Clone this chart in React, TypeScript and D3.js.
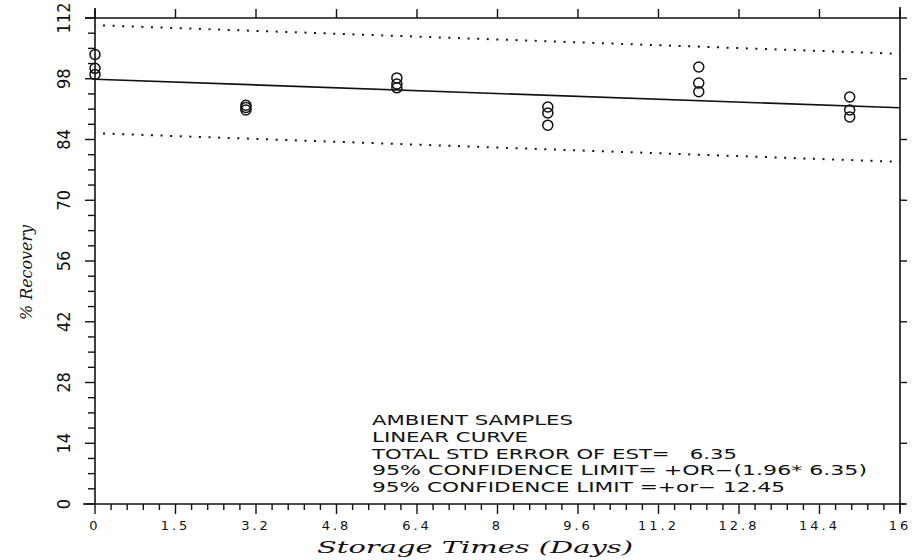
import { useEffect, useRef } from 'react';
import * as d3 from 'd3';

// storage day and % recovery of each ambient sample (three replicates per day)
const sampleDays = [0, 0, 0, 3, 3, 3, 6, 6, 6, 9, 9, 9, 12, 12, 12, 15, 15, 15];
const recovery = [103.6, 100.4, 99.0, 91.9, 91.4, 90.8, 98.2, 96.8, 95.9, 91.5, 90.1, 87.3, 100.7, 97.0, 95.0, 93.8, 90.8, 89.2];

// fitted linear curve at its two ends, and the 95% limit band
const fitDays = [0, 16];
const fitValues = [97.9, 91.3];
const confLimit = 12.45;

const xTickValues = [0, 1.6, 3.2, 4.8, 6.4, 8, 9.6, 11.2, 12.8, 14.4, 16];
const xTickLabels = ['0', '1.5', '3.2', '4.8', '6.4', '8', '9.6', '11.2', '12.8', '14.4', '16'];
const yTickValues = [0, 14, 28, 42, 56, 70, 84, 98, 112];

const notes = [
  'AMBIENT SAMPLES',
  'LINEAR CURVE',
  'TOTAL STD ERROR OF EST=   6.35',
  '95% CONFIDENCE LIMIT= +OR\u2212(1.96* 6.35)',
  '95% CONFIDENCE LIMIT =+or\u2212 12.45',
];
const noteWidths = [201, 156, 365, 495, 413];

export default function App() {
  const ref = useRef<SVGSVGElement>(null);

  useEffect(() => {
    const svg = d3.select(ref.current);
    svg.selectAll('*').remove();

    const x = d3.scaleLinear().domain([0, 16]).range([95, 900]);
    const y = d3.scaleLinear().domain([0, 112]).range([504, 18]);
    const ink = '#111';

    // frame
    const frame = svg.append('g').attr('stroke', ink).attr('stroke-width', 1.6).attr('fill', 'none');
    frame.append('line').attr('x1', 83).attr('x2', 905).attr('y1', y(0)).attr('y2', y(0));
    frame.append('line').attr('x1', 85).attr('x2', 900).attr('y1', y(112)).attr('y2', y(112));
    frame.append('line').attr('x1', x(0)).attr('x2', x(0)).attr('y1', 8).attr('y2', y(0));
    frame.append('line').attr('x1', x(16)).attr('x2', x(16)).attr('y1', 7).attr('y2', 512);

    // bottom ticks
    const xMinor = d3.range(0, 50).map(i => i * 0.32).filter(v => !xTickValues.some(t => Math.abs(t - v) < 1e-6));
    const ticks = svg.append('g').attr('stroke', ink).attr('stroke-width', 1.4);
    ticks.selectAll('.xmaj').data(xTickValues).join('line')
      .attr('x1', d => x(d)).attr('x2', d => x(d)).attr('y1', y(0)).attr('y2', y(0) + 10);
    ticks.selectAll('.xmin').data(xMinor).join('line')
      .attr('x1', d => x(d)).attr('x2', d => x(d)).attr('y1', y(0)).attr('y2', y(0) + 6);
    // top ticks, pointing up
    ticks.selectAll('.xtop').data(xTickValues).join('line')
      .attr('x1', d => x(d)).attr('x2', d => x(d)).attr('y1', y(112)).attr('y2', y(112) - 9);

    // left ticks
    const yMinor = d3.range(0, 33).map(i => i * 3.5).filter(v => v % 14 !== 0);
    ticks.selectAll('.ymaj').data(yTickValues).join('line')
      .attr('x1', x(0) - 10).attr('x2', x(0)).attr('y1', d => y(d)).attr('y2', d => y(d));
    ticks.selectAll('.ymin').data(yMinor).join('line')
      .attr('x1', x(0) - 7).attr('x2', x(0)).attr('y1', d => y(d)).attr('y2', d => y(d));
    // right ticks, pointing out
    ticks.selectAll('.yright').data(yTickValues).join('line')
      .attr('x1', x(16)).attr('x2', x(16) + 7).attr('y1', d => y(d)).attr('y2', d => y(d));

    // tick labels
    svg.append('g').selectAll('text').data(xTickValues).join('text')
      .attr('x', d => x(d)).attr('y', 530)
      .attr('text-anchor', 'middle')
      .attr('font-family', 'DejaVu Sans').attr('font-size', 13).attr('letter-spacing', 3)
      .attr('fill', ink)
      .text((_, i) => xTickLabels[i]);

    svg.append('g').selectAll('text').data(yTickValues).join('text')
      .attr('transform', d => `translate(70,${y(d)}) rotate(-90)`)
      .attr('text-anchor', 'middle')
      .attr('font-family', 'DejaVu Sans Condensed, DejaVu Sans').attr('font-stretch', 'condensed')
      .attr('font-size', 18).attr('font-weight', 300)
      .attr('fill', ink)
      .text(d => d);

    // axis titles
    svg.append('text')
      .attr('transform', `translate(32,${(225 + 320) / 2}) rotate(-90)`)
      .attr('text-anchor', 'middle')
      .attr('font-family', 'DejaVu Serif Condensed, DejaVu Serif').attr('font-style', 'italic')
      .attr('font-size', 17).attr('fill', ink)
      .attr('textLength', 95).attr('lengthAdjust', 'spacingAndGlyphs')
      .text('% Recovery');

    svg.append('text')
      .attr('x', 317).attr('y', 553)
      .attr('font-family', 'DejaVu Serif').attr('font-style', 'italic')
      .attr('font-size', 17).attr('fill', ink)
      .attr('textLength', 316).attr('lengthAdjust', 'spacingAndGlyphs')
      .text('Storage Times (Days)');

    // fitted line and confidence band
    const line = d3.line<number>().x((_, i) => x(fitDays[i])).y(d => y(d));
    svg.append('path').datum(fitValues).attr('d', line)
      .attr('fill', 'none').attr('stroke', ink).attr('stroke-width', 1.6);
    [confLimit, -confLimit].forEach(off => {
      svg.append('path').datum(fitValues.map(v => v + off)).attr('d', line)
        .attr('fill', 'none').attr('stroke', ink).attr('stroke-width', 2)
        .attr('stroke-dasharray', '2 7.6').attr('stroke-dashoffset', -8);
    });

    // samples
    svg.append('g').selectAll('circle').data(recovery).join('circle')
      .attr('cx', (_, i) => x(sampleDays[i]))
      .attr('cy', d => y(d))
      .attr('r', 5)
      .attr('fill', 'none').attr('stroke', ink).attr('stroke-width', 1.5);

    // notes, drawn wide like the plotter lettering
    svg.append('g').selectAll('text').data(notes).join('text')
      .attr('x', 372).attr('y', (_, i) => 425 + i * 16.8)
      .attr('font-family', 'DejaVu Sans').attr('font-size', 14)
      .attr('fill', ink)
      .style('white-space', 'pre')
      .attr('textLength', (_, i) => noteWidths[i]).attr('lengthAdjust', 'spacingAndGlyphs')
      .text(d => d);
  }, []);

  return (
    <svg ref={ref} width={915} height={560}
      style={{ position: 'absolute', left: 0, top: 0, background: '#fff' }} />
  );
}
